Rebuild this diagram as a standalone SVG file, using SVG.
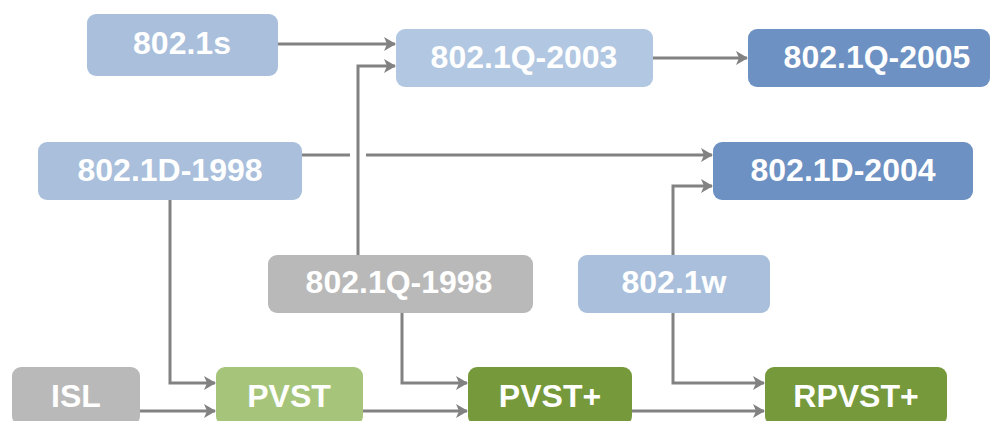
<svg xmlns="http://www.w3.org/2000/svg" width="995" height="421" viewBox="0 0 995 421">
<defs>
<style>
.n rect{rx:9;ry:9}
.lb{fill:#a9bfdc}
.lb2{fill:#b2c7e1}
.db{fill:#6d91c2}
.gr{fill:#b9b9b9}
.lg{fill:#a6c57b}
.dg{fill:#76993b}
text{font-family:"Liberation Sans",Arial,sans-serif;font-weight:bold;font-size:32px;fill:#ffffff;text-anchor:middle}
.c{fill:none;stroke:#828282;stroke-width:3}
</style>
<marker id="ah" viewBox="0 0 12 14" refX="11" refY="7" markerWidth="12" markerHeight="14" markerUnits="userSpaceOnUse" orient="auto">
<path d="M0,0 L12,7 L0,14 L3,7 Z" fill="#828282"/>
</marker>
</defs>
<rect width="995" height="421" fill="#ffffff"/>
<g id="connectors">
<path class="c" d="M278,44 H395" marker-end="url(#ah)"/>
<path class="c" d="M358,255 V66 H395" marker-end="url(#ah)"/>
<path class="c" d="M302,155 H350 M366,155 H712" marker-end="url(#ah)"/>
<path class="c" d="M653,58 H747" marker-end="url(#ah)"/>
<path class="c" d="M673,255 V186 H712" marker-end="url(#ah)"/>
<path class="c" d="M170,200 V383 H215" marker-end="url(#ah)"/>
<path class="c" d="M140,411 H215" marker-end="url(#ah)"/>
<path class="c" d="M402,313 V383 H467" marker-end="url(#ah)"/>
<path class="c" d="M363,411 H467" marker-end="url(#ah)"/>
<path class="c" d="M673,313 V383 H764" marker-end="url(#ah)"/>
<path class="c" d="M632,411 H764" marker-end="url(#ah)"/>
</g>
<g id="n802_1s" class="n"><rect class="lb" x="87" y="14" width="191" height="62"/><text x="182" y="54">802.1s</text></g>
<g id="n802_1Q_2003" class="n"><rect class="lb2" x="396" y="29" width="257" height="58"/><text x="524" y="68">802.1Q-2003</text></g>
<g id="n802_1Q_2005" class="n"><rect class="db" x="748" y="29" width="242" height="58"/><text x="877" y="68">802.1Q-2005</text></g>
<g id="n802_1D_1998" class="n"><rect class="lb" x="38" y="142" width="264" height="58"/><text x="170" y="181">802.1D-1998</text></g>
<g id="n802_1D_2004" class="n"><rect class="db" x="713" y="142" width="260" height="58"/><text x="843" y="181">802.1D-2004</text></g>
<g id="n802_1Q_1998" class="n"><rect class="gr" x="268" y="255" width="265" height="58"/><text x="399" y="293">802.1Q-1998</text></g>
<g id="n802_1w" class="n"><rect class="lb" x="578" y="255" width="192" height="58"/><text x="674" y="293">802.1w</text></g>
<g id="nISL" class="n"><rect class="gr" x="12" y="367" width="128" height="58"/><text x="76" y="407">ISL</text></g>
<g id="nPVST" class="n"><rect class="lg" x="216" y="367" width="147" height="58"/><text x="289" y="407">PVST</text></g>
<g id="nPVSTplus" class="n"><rect class="dg" x="468" y="367" width="164" height="58"/><text x="550" y="407">PVST+</text></g>
<g id="nRPVSTplus" class="n"><rect class="dg" x="765" y="367" width="182" height="58"/><text x="856" y="407">RPVST+</text></g>
</svg>
